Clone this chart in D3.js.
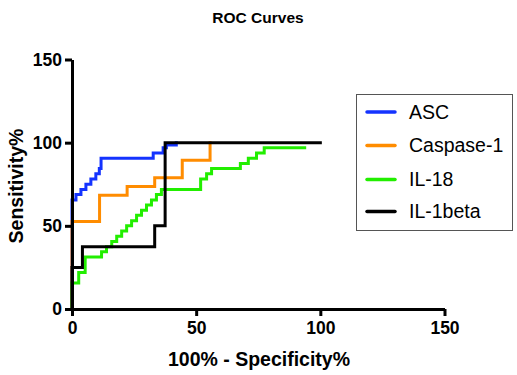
<!DOCTYPE html>
<html>
<head>
<meta charset="utf-8">
<script src="https://cdn.jsdelivr.net/npm/d3@7"></script>
<style>
  html, body { margin: 0; padding: 0; background: #fff; }
  svg { display: block; }
  text { font-family: "Liberation Sans", Arial, sans-serif; }
</style>
</head>
<body>
<svg id="chart" width="517" height="375"></svg>
<script>
// ---- Data (100% - Specificity%, Sensitivity%) step points ----
const seriesNames = ["ASC", "Caspase-1", "IL-18", "IL-1beta"];
const seriesColors = ["#1433ff", "#ff8c00", "#22ee00", "#000000"];

const ascX = [0, 0, 1.6, 3.6, 5.6, 7.6, 9.6, 11.0, 11.7, 32.7, 36.7, 38.0, 42.0];
const ascY = [0, 65.6, 68.8, 71.9, 75.0, 78.1, 81.3, 84.4, 90.6, 93.8, 96.9, 98.6, 100];

const casX = [0, 0, 11.1, 22.2, 33.3, 44.4, 55.6];
const casY = [0, 52.6, 68.4, 73.7, 78.9, 89.5, 100];

const il18X = [0, 0, 2.7, 5.3, 11.9, 13.9, 16.0, 18.0, 20.0, 22.0, 24.0, 26.0, 28.0, 30.0, 32.0, 34.0, 36.0, 51.8, 54.2, 56.2, 67.8, 71.0, 74.3, 77.4, 93.7];
const il18Y = [0, 15.6, 21.9, 31.3, 34.4, 37.5, 40.6, 43.8, 46.9, 50.0, 53.1, 56.3, 59.4, 62.5, 65.6, 68.8, 71.9, 78.1, 81.3, 84.4, 87.5, 90.6, 93.8, 96.9, 96.9];

const il1bX = [0, 0, 4.2, 33.3, 37.5, 100];
const il1bY = [0, 25, 37.5, 50, 100, 100];

const xTicks = [0, 50, 100, 150];
const yTicks = [0, 50, 100, 150];
const titleText = "ROC Curves";
const xTitle = "100% - Specificity%";
const yTitle = "Sensitivity%";

// ---- Layout ----
const svg = d3.select("#chart");
const x = d3.scaleLinear().domain([0, 150]).range([72, 444.5]);
const y = d3.scaleLinear().domain([0, 150]).range([309, 59.5]);

const seriesData = [
  d3.zip(ascX, ascY),
  d3.zip(casX, casY),
  d3.zip(il18X, il18Y),
  d3.zip(il1bX, il1bY)
];

// Title
svg.append("text")
  .attr("x", 258).attr("y", 23)
  .attr("text-anchor", "middle")
  .attr("font-weight", "bold")
  .attr("font-size", 15.5)
  .text(titleText);

// Lines
const line = d3.line()
  .x(d => x(d[0]))
  .y(d => y(d[1]))
  .curve(d3.curveStepAfter);

seriesData.forEach((data, i) => {
  svg.append("path")
    .datum(data)
    .attr("d", line)
    .attr("fill", "none")
    .attr("stroke", seriesColors[i])
    .attr("stroke-width", 3)
    .attr("stroke-linejoin", "miter")
    .attr("stroke-linecap", "square");
});

// Axes
const xAxis = d3.axisBottom(x).tickValues(xTicks).tickSize(7).tickSizeOuter(0).tickPadding(6);
const yAxis = d3.axisLeft(y).tickValues(yTicks).tickSize(7).tickSizeOuter(0).tickPadding(3);

const gx = svg.append("g").attr("transform", `translate(0,${y(0)})`).call(xAxis);
const gy = svg.append("g").attr("transform", `translate(${x(0)},0)`).call(yAxis);

[gx, gy].forEach(g => {
  g.select(".domain").attr("stroke", "#000").attr("stroke-width", 3);
  g.selectAll(".tick line").attr("stroke", "#000").attr("stroke-width", 3);
  g.selectAll(".tick text")
    .attr("fill", "#000")
    .attr("font-family", "'Liberation Sans', Arial, sans-serif")
    .attr("font-weight", "bold")
    .attr("font-size", 17.5);
});

// Axis titles
svg.append("text")
  .attr("x", 259).attr("y", 366)
  .attr("text-anchor", "middle")
  .attr("font-weight", "bold")
  .attr("font-size", 19.5)
  .text(xTitle);

svg.append("text")
  .attr("transform", "translate(23,186) rotate(-90)")
  .attr("text-anchor", "middle")
  .attr("font-weight", "bold")
  .attr("font-size", 19.5)
  .text(yTitle);

// Legend
const legend = svg.append("g");
legend.append("rect")
  .attr("x", 356.5).attr("y", 94.5)
  .attr("width", 156).attr("height", 136)
  .attr("fill", "#fff")
  .attr("stroke", "#555")
  .attr("stroke-width", 1);

const rowY = [112, 145.5, 179.5, 211.5];
seriesNames.forEach((name, i) => {
  legend.append("line")
    .attr("x1", 367).attr("x2", 395)
    .attr("y1", rowY[i]).attr("y2", rowY[i])
    .attr("stroke", seriesColors[i])
    .attr("stroke-width", 3.5)
    .attr("stroke-linecap", "round");
  legend.append("text")
    .attr("x", 409).attr("y", rowY[i])
    .attr("dy", "0.35em")
    .attr("font-size", 19.5)
    .attr("fill", "#000")
    .text(name);
});
</script>
</body>
</html>
